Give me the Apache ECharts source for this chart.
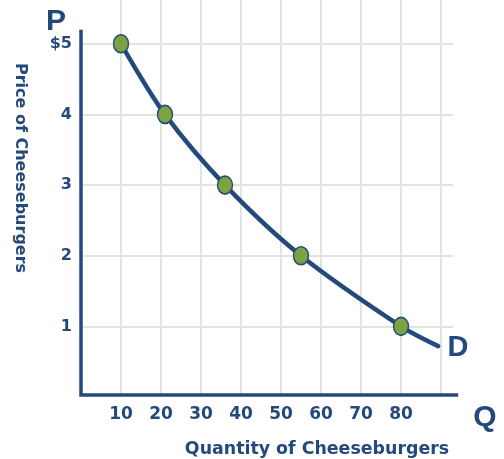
<!DOCTYPE html>
<html>
<head>
<meta charset="utf-8">
<script src="https://cdn.jsdelivr.net/npm/echarts@6/dist/echarts.min.js"></script>
<style>
  html, body { margin: 0; padding: 0; background: #fff; }
  #chart { width: 504px; height: 459px; }
</style>
</head>
<body>
<div id="chart"></div>
<script>
// Demand schedule for cheeseburgers
const quantities = [10, 21, 36, 55, 80];
const prices = [5, 4, 3, 2, 1];
// where the demand curve runs on past the last point
const tailPoint = [89.3, 0.72];
const xTickValues = [10, 20, 30, 40, 50, 60, 70, 80];
const yTickValues = [1, 2, 3, 4, 5];

const NAVY = '#24497c';
const GREEN = '#7ba33f';
const GRID = '#e2e2e2';
const FONT = '"DejaVu Sans", sans-serif';
const LETTER_FONT = '"Liberation Sans", Arial, sans-serif';

const points = quantities.map((q, i) => [q, prices[i]]);
const curve = points.concat([tailPoint]);

const chart = echarts.init(document.getElementById('chart'));

chart.setOption({
  animation: false,
  grid: { left: 81, right: 51, top: 0, bottom: 62 },
  xAxis: {
    type: 'value', min: 0, max: 93, interval: 10,
    axisLine: { show: false },
    axisTick: { show: false },
    splitLine: { show: true, showMinLine: false, showMaxLine: false,
                 lineStyle: { color: GRID, width: 2 } },
    axisLabel: {
      margin: 9, color: NAVY, fontFamily: FONT, fontWeight: 'bold', fontSize: 17,
      formatter: v => xTickValues.includes(v) ? String(v) : ''
    }
  },
  yAxis: {
    type: 'value', min: 0, max: 5.62, interval: 1,
    axisLine: { show: false },
    axisTick: { show: false },
    splitLine: { show: true, showMinLine: false, showMaxLine: false,
                 lineStyle: { color: GRID, width: 2 } },
    axisLabel: {
      margin: 9, color: NAVY, fontFamily: FONT, fontWeight: 'bold', fontSize: 16,
      formatter: v => yTickValues.includes(v) ? (v === 5 ? '$5' : String(v)) : ''
    }
  },
  series: [
    {
      type: 'line', data: curve, smooth: 0.3, showSymbol: false, z: 3,
      lineStyle: { color: NAVY, width: 4.5, cap: 'round' }
    },
    {
      type: 'scatter', data: points, z: 4,
      symbol: 'circle', symbolSize: [15, 18],
      itemStyle: { color: GREEN, borderColor: NAVY, borderWidth: 1.5, opacity: 1 }
    }
  ]
});

// Axes drawn as open L-shaped lines, plus the axis letters and titles
const origin = chart.convertToPixel({ gridIndex: 0 }, [0, 0]);
const yTop = chart.convertToPixel({ gridIndex: 0 }, [0, 5.2]);
const xEnd = chart.convertToPixel({ gridIndex: 0 }, [94.3, 0]);

chart.setOption({
  graphic: [
    { type: 'polyline', z: 10,
      shape: { points: [[yTop[0], yTop[1]], [origin[0], origin[1] - 2], [xEnd[0], xEnd[1] - 2]] },
      style: { stroke: NAVY, lineWidth: 3.5, fill: null, lineJoin: 'miter' } },
    { type: 'text', x: 56, y: 22, z: 10,
      style: { text: 'P', font: 'bold 30px ' + LETTER_FONT, fill: NAVY, align: 'center', verticalAlign: 'middle' } },
    { type: 'text', x: 485, y: 418, z: 10,
      style: { text: 'Q', font: 'bold 30px ' + LETTER_FONT, fill: NAVY, align: 'center', verticalAlign: 'middle' } },
    { type: 'text', x: 458, y: 348, z: 10,
      style: { text: 'D', font: 'bold 29px ' + LETTER_FONT, fill: NAVY, align: 'center', verticalAlign: 'middle' } },
    { type: 'text', x: 317, y: 449, z: 10,
      style: { text: 'Quantity of Cheeseburgers', font: 'bold 17.4px ' + FONT, fill: NAVY,
               align: 'center', verticalAlign: 'middle' } },
    { type: 'text', x: 20, y: 168, rotation: -Math.PI / 2, z: 10,
      style: { text: 'Price of Cheeseburgers', font: 'bold 16px ' + FONT, fill: NAVY,
               align: 'center', verticalAlign: 'middle' } }
  ]
});
</script>
</body>
</html>
